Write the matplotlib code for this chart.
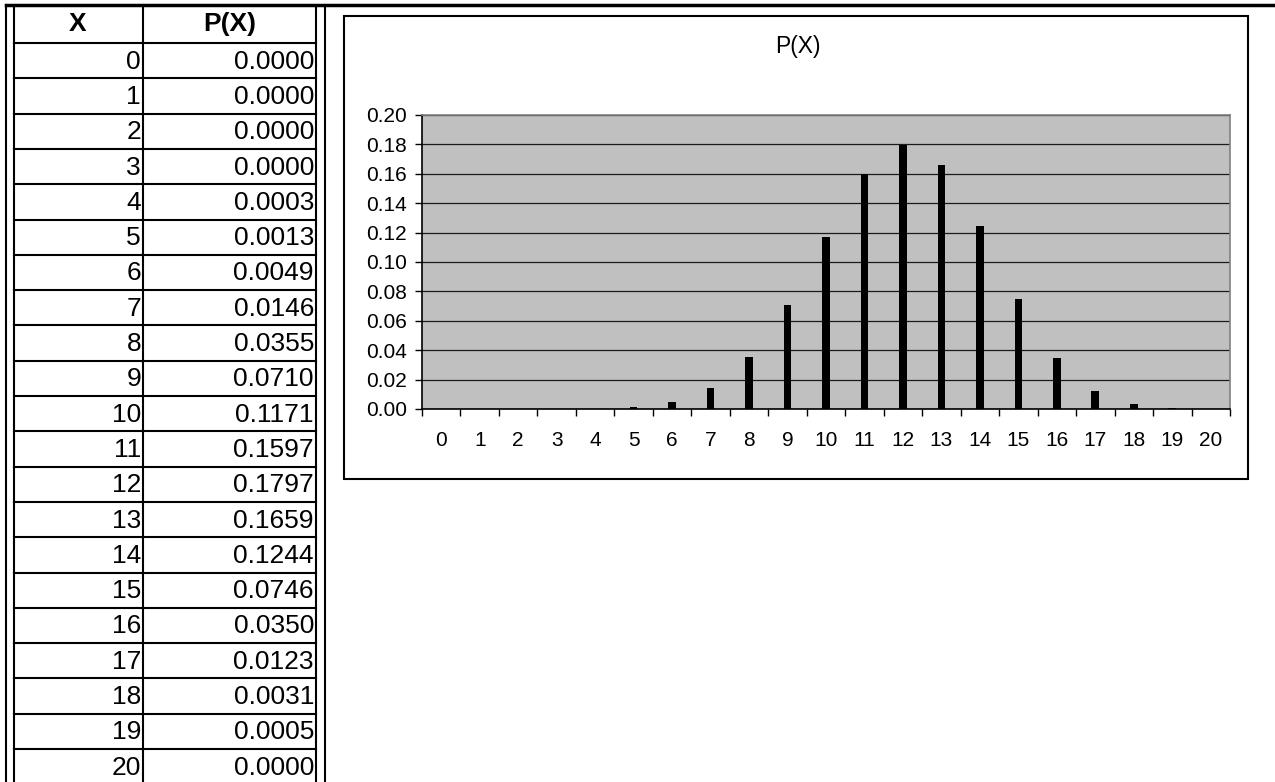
"""Binomial probability table with its bar chart, spreadsheet style."""

import matplotlib.pyplot as plt
import numpy as np

plt.rcParams["font.family"] = ["Liberation Sans", "DejaVu Sans"]

x_values = list(range(21))
p_values = [0.0000, 0.0000, 0.0000, 0.0000, 0.0003, 0.0013, 0.0049, 0.0146,
            0.0355, 0.0710, 0.1171, 0.1597, 0.1797, 0.1659, 0.1244, 0.0746,
            0.0350, 0.0123, 0.0031, 0.0005, 0.0000]
col_headers = ["X", "P(X)"]
chart_title = "P(X)"

W, H = 1275, 782
fig = plt.figure(figsize=(W / 100, H / 100), dpi=100)

# overlay in pixel coordinates for the sheet grid
sheet = fig.add_axes([0, 0, 1, 1])
sheet.set_xlim(0, W)
sheet.set_ylim(H, 0)
sheet.axis("off")

row_h = 35.3
header_bottom = 43
top_y = 5
sheet.plot([6, W], [top_y, top_y], color="black", lw=2.5)
for xv in [6, 14, 143, 316, 325]:
    sheet.plot([xv, xv], [top_y, H], color="black", lw=1.5)
for i in range(len(x_values) + 1):
    y = header_bottom + i * row_h
    sheet.plot([14, 316], [y, y], color="black", lw=1.5)

sheet.text(78, 24, col_headers[0], ha="center", va="center", fontsize=19, fontweight="bold")
sheet.text(230, 24, col_headers[1], ha="center", va="center", fontsize=19, fontweight="bold")
for i, (xv, pv) in enumerate(zip(x_values, p_values)):
    yc = header_bottom + (i + 0.5) * row_h + 1
    sheet.text(141, yc, f"{xv}", ha="right", va="center", fontsize=19)
    sheet.text(314, yc, f"{pv:.4f}", ha="right", va="center", fontsize=19)

# chart frame
sheet.add_patch(plt.Rectangle((344, 16), 1248 - 344, 479 - 16, fill=False,
                              edgecolor="black", lw=1.5))
sheet.text(798, 46, chart_title, ha="center", va="center", fontsize=16.5)

ax = fig.add_axes([422 / W, 1 - 409 / H, (1230 - 422) / W, (409 - 115) / H])
ax.set_facecolor("#c0c0c0")
ax.bar(x_values, p_values, width=0.2, color="black", zorder=3)
ax.set_xlim(-0.5, len(x_values) - 0.5)
ax.set_ylim(0, 0.20)
ax.set_yticks(np.arange(0, 0.201, 0.02))
ax.set_yticklabels([f"{t:.2f}" for t in np.arange(0, 0.201, 0.02)], fontsize=15)
ax.yaxis.grid(True, color="#1a1a1a", lw=0.9, zorder=1)
ax.set_axisbelow(True)

ax.set_xticks(x_values)
ax.set_xticklabels([str(v) for v in x_values], fontsize=15)
ax.set_xticks(np.arange(-0.5, len(x_values), 1.0), minor=True)
ax.tick_params(axis="x", which="major", length=0, pad=16)
ax.tick_params(axis="x", which="minor", length=5, width=1, direction="out")
ax.tick_params(axis="y", length=5, width=1, direction="out", pad=6)

for side in ["top", "right"]:
    ax.spines[side].set_color("#808080")
    ax.spines[side].set_linewidth(1.2)
for side in ["left", "bottom"]:
    ax.spines[side].set_color("black")
    ax.spines[side].set_linewidth(1.2)

fig.savefig("out.png", dpi=100)
